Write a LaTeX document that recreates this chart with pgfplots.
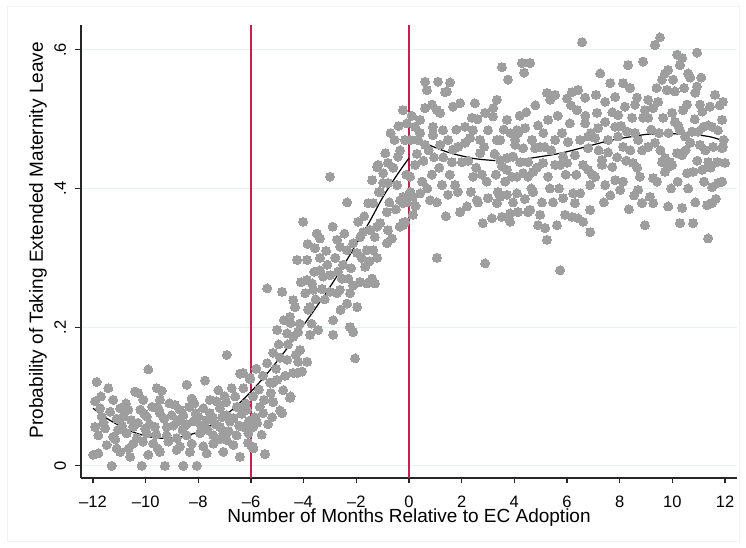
\documentclass[border=0pt]{standalone}
\usepackage{pgfplots}
\pgfplotsset{compat=1.18}
\usepackage{pgfplotstable}
\usepackage{fontspec}
\setmainfont{Liberation Sans}
\definecolor{dotgray}{RGB}{158,158,158}
\definecolor{vred}{RGB}{200,30,80}
\definecolor{gridc}{RGB}{232,240,242}
\newcommand{\tickfont}{\fontsize{16.5}{18}\selectfont}
\newcommand{\labfont}{\fontsize{19}{21}\selectfont}

\pgfplotstableread{
x y
-11.86 0.121
-11.42 0.112
-9.90 0.139
-6.92 0.160
-6.42 0.133
-6.04 0.125
-8.44 0.117
-7.75 0.123
-7.24 0.109
-9.58 0.112
-9.39 0.108
-10.40 0.107
-10.28 0.105
-11.92 0.093
-11.23 0.095
-10.09 0.095
-9.46 0.095
-8.25 0.097
-7.56 0.095
-7.30 0.093
-6.73 0.112
-6.29 0.112
-11.73 0.083
-10.97 0.083
-10.66 0.081
-10.20 0.081
-9.52 0.083
-8.89 0.088
-8.70 0.081
-7.81 0.083
-7.18 0.083
-6.54 0.085
-6.16 0.081
-11.67 0.071
-10.85 0.071
-9.96 0.071
-9.46 0.076
-9.01 0.073
-8.57 0.073
-8.00 0.071
-7.56 0.076
-6.92 0.073
-6.67 0.069
-5.91 0.066
-11.92 0.056
-11.54 0.054
-11.04 0.052
-10.47 0.056
-10.02 0.054
-9.65 0.056
-9.20 0.056
-8.70 0.066
-8.19 0.064
-7.68 0.066
-7.18 0.056
-6.80 0.064
-6.29 0.056
-11.80 0.044
-11.23 0.042
-10.72 0.047
-10.34 0.040
-9.96 0.047
-9.20 0.044
-8.82 0.040
-8.44 0.044
-7.94 0.047
-7.43 0.044
-7.05 0.047
-6.54 0.044
-6.10 0.047
-11.48 0.030
-11.10 0.025
-10.47 0.032
-9.71 0.032
-9.14 0.035
-8.70 0.028
-8.25 0.032
-7.81 0.028
-7.43 0.032
-6.92 0.037
-6.67 0.030
-5.97 0.028
-11.99 0.016
-11.80 0.018
-10.97 0.020
-10.59 0.013
-9.90 0.016
-9.46 0.020
-8.82 0.023
-8.32 0.020
-7.68 0.018
-7.05 0.020
-6.42 0.013
-5.91 0.025
-11.29 0.000
-10.15 0.000
-9.27 0.000
-8.57 0.000
-8.06 0.000
-11.60 0.062
-11.35 0.078
-11.10 0.068
-10.90 0.058
-10.75 0.090
-10.55 0.066
-10.30 0.062
-10.10 0.035
-9.85 0.060
-9.75 0.085
-9.60 0.045
-9.30 0.068
-9.10 0.090
-8.95 0.058
-8.80 0.064
-8.60 0.052
-8.35 0.085
-8.10 0.076
-7.90 0.058
-7.65 0.052
-7.45 0.070
-7.35 0.060
-7.10 0.070
-6.95 0.092
-6.85 0.050
-6.60 0.100
-6.45 0.058
-6.35 0.075
-6.20 0.090
-6.08 0.065
-11.15 0.038
-10.65 0.025
-9.55 0.025
-8.45 0.060
-7.20 0.038
-11.70 0.100
-10.05 0.075
-8.15 0.090
-7.00 0.100
-6.30 0.134
-6.04 0.127
-6.23 0.085
-5.85 0.070
-5.92 0.056
-6.11 0.033
-5.47 0.017
-5.16 0.163
-5.39 0.148
-5.16 0.120
-4.78 0.109
-4.90 0.080
-5.20 0.070
-5.39 0.256
-5.92 0.100
-5.66 0.085
-5.54 0.076
-5.77 0.062
-5.92 0.027
-4.82 0.076
-5.16 0.092
-4.52 0.098
-5.01 0.124
-5.28 0.120
-4.25 0.134
-4.06 0.136
-4.21 0.150
-4.63 0.153
-4.90 0.156
-3.87 0.150
-4.40 0.186
-4.21 0.193
-5.01 0.196
-4.52 0.215
-4.33 0.229
-3.83 0.225
-4.40 0.239
-4.82 0.251
-4.50 0.206
-4.63 0.191
-4.14 0.167
-4.40 0.134
-4.50 0.100
-5.70 0.110
-5.50 0.095
-5.35 0.060
-5.60 0.045
-5.80 0.140
-5.25 0.105
-5.05 0.140
-4.70 0.130
-4.95 0.175
-4.60 0.175
-4.30 0.160
-4.15 0.205
-4.75 0.210
-5.55 0.130
-4.02 0.352
-3.50 0.335
-3.38 0.328
-4.25 0.297
-3.87 0.297
-3.57 0.314
-3.38 0.300
-3.87 0.268
-3.68 0.263
-3.63 0.254
-3.94 0.249
-3.38 0.282
-3.26 0.273
-3.00 0.275
-2.73 0.326
-3.10 0.290
-3.76 0.229
-3.45 0.196
-3.76 0.189
-2.88 0.210
-2.88 0.189
-3.55 0.240
-3.20 0.240
-3.70 0.205
-3.15 0.310
-3.85 0.320
-3.30 0.255
-3.60 0.280
-4.10 0.265
-3.00 0.251
-2.73 0.249
-2.62 0.254
-2.35 0.234
-2.24 0.249
-2.12 0.260
-2.24 0.200
-2.12 0.193
-2.05 0.155
-2.35 0.380
-2.50 0.290
-2.35 0.311
-1.97 0.307
-1.93 0.352
-2.12 0.321
-2.62 0.316
-3.00 0.417
-1.97 0.229
-2.80 0.300
-2.55 0.270
-2.45 0.335
-2.20 0.285
-2.70 0.280
-2.90 0.345
-2.60 0.225
-2.30 0.270
-1.74 0.337
-1.60 0.311
-1.67 0.287
-1.86 0.265
-1.60 0.263
-1.29 0.263
-1.40 0.270
-1.21 0.300
-1.36 0.311
-1.48 0.340
-1.55 0.379
-1.36 0.379
-1.21 0.345
-1.10 0.350
-1.40 0.412
-0.98 0.422
-1.21 0.431
-0.84 0.366
-1.80 0.300
-1.50 0.295
-1.70 0.360
-1.15 0.395
-1.85 0.330
-1.30 0.330
-0.84 0.321
-0.65 0.328
-0.80 0.340
-1.10 0.395
-0.80 0.408
-0.98 0.408
-1.17 0.434
-0.80 0.437
-0.90 0.451
-0.42 0.446
-0.23 0.347
-0.15 0.352
-0.34 0.383
-0.08 0.380
-0.23 0.388
-0.45 0.405
-0.34 0.455
-0.23 0.513
-0.08 0.494
-0.23 0.379
-0.23 0.350
-0.55 0.470
-0.70 0.480
-0.40 0.490
-0.15 0.470
-0.60 0.430
-0.50 0.370
-0.10 0.420
-0.75 0.380
-0.35 0.345
0.61 0.554
1.10 0.554
0.68 0.542
0.61 0.516
0.87 0.521
1.06 0.513
0.42 0.499
0.23 0.489
0.42 0.480
0.91 0.489
0.91 0.477
0.34 0.470
0.61 0.463
0.23 0.434
0.04 0.417
0.87 0.420
0.42 0.393
0.15 0.388
0.80 0.383
1.06 0.380
0.15 0.362
1.06 0.300
0.05 0.470
0.10 0.505
0.30 0.450
0.55 0.440
0.75 0.455
0.95 0.445
0.50 0.410
0.70 0.400
0.25 0.375
0.05 0.395
1.56 0.553
1.44 0.540
1.29 0.484
1.18 0.463
1.37 0.539
1.94 0.523
1.67 0.518
1.18 0.509
2.13 0.489
1.48 0.470
1.86 0.460
1.67 0.456
2.13 0.466
1.63 0.438
2.01 0.438
1.25 0.405
1.75 0.405
1.48 0.391
1.94 0.366
2.20 0.374
1.30 0.445
1.80 0.485
1.55 0.420
1.40 0.360
1.85 0.395
1.15 0.430
2.50 0.523
2.89 0.509
3.20 0.516
3.34 0.528
2.39 0.502
2.43 0.484
2.70 0.470
3.00 0.484
2.32 0.473
2.43 0.417
2.77 0.420
3.00 0.386
3.15 0.357
2.89 0.292
2.62 0.380
2.58 0.383
2.70 0.451
2.25 0.440
2.55 0.430
2.85 0.460
2.95 0.410
2.35 0.395
2.80 0.350
2.60 0.500
3.34 0.379
3.46 0.441
3.34 0.470
3.53 0.575
3.76 0.557
3.19 0.504
3.72 0.499
3.46 0.470
3.72 0.444
3.95 0.446
3.53 0.432
3.72 0.427
3.38 0.395
3.46 0.388
3.72 0.391
3.91 0.417
3.84 0.364
3.84 0.352
3.53 0.359
4.03 0.470
4.10 0.484
3.25 0.450
3.60 0.485
3.85 0.480
3.30 0.420
3.65 0.410
3.95 0.380
4.29 0.581
4.60 0.581
4.37 0.567
4.41 0.487
4.14 0.480
4.67 0.470
4.90 0.491
4.03 0.463
4.33 0.458
4.79 0.458
4.98 0.460
4.22 0.438
4.52 0.438
4.71 0.424
4.10 0.417
4.33 0.422
4.52 0.417
4.71 0.395
4.10 0.393
4.60 0.369
4.52 0.366
4.98 0.362
4.90 0.347
4.14 0.366
4.45 0.510
4.80 0.520
4.20 0.505
4.65 0.400
4.85 0.430
4.40 0.385
5.24 0.538
5.36 0.528
5.55 0.535
6.00 0.530
5.28 0.499
5.81 0.480
5.55 0.470
5.09 0.437
5.28 0.417
5.55 0.434
5.74 0.434
5.85 0.446
5.05 0.380
5.47 0.380
5.85 0.386
5.17 0.343
5.24 0.326
5.62 0.347
5.93 0.362
5.74 0.282
5.10 0.480
5.40 0.455
5.65 0.505
5.95 0.420
5.35 0.400
5.70 0.400
5.15 0.460
6.57 0.611
6.19 0.539
6.42 0.542
6.69 0.531
6.38 0.513
6.11 0.494
6.69 0.494
6.80 0.475
6.04 0.467
6.30 0.448
6.00 0.437
6.80 0.458
6.61 0.434
6.80 0.427
6.95 0.420
6.88 0.405
6.23 0.393
6.50 0.393
6.30 0.379
6.19 0.359
6.42 0.357
6.61 0.352
6.88 0.369
6.88 0.337
6.15 0.520
6.50 0.470
6.35 0.420
6.70 0.505
6.90 0.480
7.26 0.566
7.64 0.552
7.83 0.532
7.45 0.525
7.14 0.509
7.45 0.496
7.72 0.510
7.94 0.506
7.18 0.487
7.83 0.489
7.07 0.473
7.56 0.470
7.94 0.475
7.33 0.441
7.56 0.452
7.33 0.434
7.72 0.431
7.07 0.417
7.45 0.405
7.83 0.412
8.02 0.398
7.20 0.455
7.65 0.390
7.40 0.380
7.90 0.445
7.10 0.535
8.32 0.578
8.13 0.552
8.39 0.545
8.66 0.531
8.58 0.521
8.20 0.518
8.96 0.513
8.47 0.502
8.89 0.502
8.28 0.482
8.58 0.480
8.70 0.470
8.13 0.460
8.51 0.437
8.66 0.430
8.77 0.417
8.13 0.410
8.70 0.398
8.85 0.379
8.96 0.347
8.40 0.455
8.85 0.455
8.25 0.440
8.55 0.390
8.05 0.490
8.35 0.370
9.34 0.607
9.53 0.618
8.89 0.583
9.08 0.528
9.27 0.516
9.46 0.525
9.72 0.566
9.84 0.571
9.61 0.557
10.03 0.557
9.80 0.542
9.08 0.502
9.65 0.502
9.99 0.509
9.08 0.460
9.34 0.466
9.72 0.444
9.61 0.438
9.91 0.438
9.84 0.431
9.72 0.424
9.27 0.415
9.42 0.410
9.15 0.388
9.27 0.379
9.84 0.374
9.20 0.485
9.50 0.480
9.85 0.480
9.40 0.545
9.55 0.455
9.95 0.400
10.18 0.593
10.37 0.588
10.29 0.578
10.94 0.596
10.60 0.566
10.68 0.560
10.94 0.547
10.87 0.538
10.41 0.513
10.56 0.521
10.10 0.496
10.22 0.491
10.29 0.484
10.75 0.482
10.98 0.482
10.48 0.475
10.68 0.466
10.18 0.451
10.37 0.448
11.05 0.463
9.99 0.434
10.56 0.422
10.79 0.424
11.14 0.427
10.87 0.380
10.37 0.372
10.29 0.350
10.79 0.350
10.10 0.540
10.45 0.545
10.85 0.500
10.20 0.410
10.60 0.400
10.95 0.440
10.50 0.455
11.05 0.521
11.14 0.511
11.43 0.518
11.62 0.535
11.92 0.525
11.18 0.489
11.36 0.491
11.51 0.489
11.73 0.484
11.89 0.499
11.92 0.460
11.89 0.458
11.36 0.438
11.70 0.438
12.00 0.437
11.51 0.402
11.73 0.408
11.89 0.410
11.32 0.376
11.51 0.379
11.36 0.328
11.25 0.455
11.55 0.460
11.80 0.520
11.20 0.410
11.65 0.385
11.95 0.470
11.10 0.560
11.45 0.430
}\scatterdata

\begin{document}
\begin{tikzpicture}
\begin{axis}[
  scale only axis,
  width=656pt, height=453pt,
  xmin=-12.456, xmax=12.456,
  ymin=-0.0176, ymax=0.6358,
  axis lines=left,
  axis line style={-, line width=1.1pt, black!85},
  tick align=outside,
  major tick length=5.5pt,
  tick style={line width=1.1pt, black!85},
  xtick={-12,-10,-8,-6,-4,-2,0,2,4,6,8,10,12},
  xticklabels={{\textendash12},{\textendash10},{\textendash8},{\textendash6},{\textendash4},{\textendash2},{0},{2},{4},{6},{8},{10},{12}},
  ytick={0,0.2,0.4,0.6},
  yticklabels={0,.2,.4,.6},
  tick label style={font=\tickfont},
  xticklabel style={font=\tickfont, yshift=-9pt},
  yticklabel style={font=\tickfont, rotate=90, anchor=south, yshift=6pt},
  ymajorgrids,
  grid style={line width=1pt, gridc},
  xlabel={Number of Months Relative to EC Adoption},
  ylabel={Probability of Taking Extended Maternity Leave},
  every axis x label/.style={at={(axis description cs:0.5,-0.088)}, anchor=center, font=\labfont},
  every axis y label/.style={at={(axis description cs:-0.0655,0.525)}, rotate=90, anchor=center, font=\labfont},
  clip=false,
]
\addplot[vred, line width=1.6pt] coordinates {(-6,-0.0176) (-6,0.6358)};
\addplot[vred, line width=1.6pt] coordinates {(0,-0.0176) (0,0.6358)};
\addplot[only marks, mark=*, color=dotgray, mark size=4.5pt, mark options={draw=dotgray, fill=dotgray, line width=0pt}] table[x=x,y=y] {\scatterdata};
\addplot[black, line width=1.2pt, smooth] coordinates {
(-12,0.083) (-11.5,0.069) (-11,0.058) (-10.5,0.049) (-10,0.043) (-9.5,0.040) (-9,0.040) (-8.5,0.043) (-8,0.049) (-7.5,0.059) (-7,0.072) (-6.5,0.088) (-6,0.107) (-5.5,0.128) (-5,0.151) (-4.5,0.176) (-4,0.203) (-3.5,0.230) (-3,0.258) (-2.5,0.288) (-2,0.320) (-1.5,0.352) (-1,0.387) (-0.5,0.417) (0,0.444)};
\addplot[black, line width=1.2pt, smooth] coordinates {
(0,0.475) (0.5,0.467) (1,0.459) (1.5,0.452) (2,0.447) (2.5,0.443) (3,0.441) (3.5,0.440) (4,0.441) (4.5,0.443) (5,0.446) (5.5,0.449) (6,0.453) (6.5,0.458) (7,0.463) (7.5,0.468) (8,0.472) (8.5,0.475) (9,0.478) (9.5,0.479) (10,0.479) (10.5,0.478) (11,0.477) (11.5,0.474) (12,0.468)};
\coordinate (ll) at (rel axis cs:0,0);
\coordinate (ur) at (rel axis cs:1,1);
\end{axis}
\path (ll) ++(-81pt,-70pt) coordinate (bbA);
\path (ur) ++(9pt,25pt) coordinate (bbB);
\path (bbA) rectangle (bbB);
\path (ll) ++(-74pt,-63pt) coordinate (fA);
\path (ur) ++(2pt,19pt) coordinate (fB);
\draw[gray!10, line width=0.8pt] (fA) rectangle (fB);
\end{tikzpicture}
\end{document}
